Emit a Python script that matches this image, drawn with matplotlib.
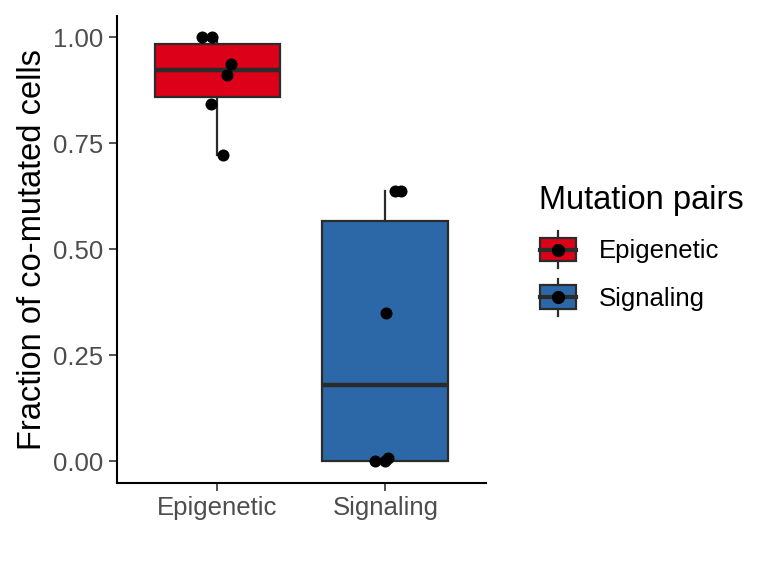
import matplotlib
matplotlib.use("Agg")
import matplotlib.pyplot as plt
from matplotlib.legend_handler import HandlerBase
from matplotlib.patches import Rectangle
from matplotlib.lines import Line2D

plt.rcParams['font.family'] = ['Liberation Sans', 'DejaVu Sans']

categories = ["Epigenetic", "Signaling"]
values_epigenetic = [1.0, 1.0, 0.937, 0.911, 0.843, 0.723]
jitter_epigenetic = [-0.09, -0.03, 0.083, 0.054, -0.036, 0.03]
values_signaling = [0.638, 0.638, 0.350, 0.0, 0.0, 0.009]
jitter_signaling = [0.06, 0.095, 0.005, -0.06, 0.0, 0.018]
colors = ["#DC0019", "#2C68A7"]
yticks = [0.0, 0.25, 0.50, 0.75, 1.00]
ytick_labels = ["0.00", "0.25", "0.50", "0.75", "1.00"]

edge = "#2B2B2B"
fig = plt.figure(figsize=(7.68, 5.76), dpi=100)
ax = fig.add_axes([0.152, 0.162, 0.481, 0.81])

data = [values_epigenetic, values_signaling]
jit = [jitter_epigenetic, jitter_signaling]
positions = [1, 2]
bp = ax.boxplot(data, positions=positions, widths=0.75, patch_artist=True,
                whis=1.5, showcaps=False, showfliers=False,
                boxprops=dict(edgecolor=edge, linewidth=1.6),
                whiskerprops=dict(color=edge, linewidth=1.6),
                medianprops=dict(color=edge, linewidth=3.2),
                zorder=2)
for patch, c in zip(bp['boxes'], colors):
    patch.set_facecolor(c)

for p, vals, js in zip(positions, data, jit):
    ax.scatter([p + j for j in js], vals, s=75, color="black", zorder=3, linewidths=0)

ax.set_xlim(0.4, 2.6)
ax.set_ylim(-0.05, 1.05)
ax.set_xticks(positions)
ax.set_xticklabels(categories)
ax.set_yticks(yticks)
ax.set_yticklabels(ytick_labels)
ax.tick_params(labelsize=18.5, colors="#333333", length=5.5, width=1.2, labelcolor="#4D4D4D", pad=4)
for s in ["top", "right"]:
    ax.spines[s].set_visible(False)
for s in ["left", "bottom"]:
    ax.spines[s].set_linewidth(1.5)
    ax.spines[s].set_color("black")
ax.set_ylabel("Fraction of co-mutated cells", fontsize=23.5, color="black", labelpad=4)


class BoxHandler(HandlerBase):
    def __init__(self, color):
        super().__init__()
        self.color = color

    def create_artists(self, legend, orig_handle, xdescent, ydescent, width, height, fontsize, trans):
        cx = width / 2 - xdescent
        h = height
        bw = width * 0.95
        bh = h * 1.12
        y0 = -ydescent + (h - bh) / 2
        rect = Rectangle((cx - bw / 2, y0), bw, bh, facecolor=self.color, edgecolor=edge,
                         linewidth=1.6, transform=trans)
        wl = Line2D([cx, cx], [y0 - h * 0.3, y0], color=edge, lw=1.6, transform=trans)
        wu = Line2D([cx, cx], [y0 + bh, y0 + bh + h * 0.3], color=edge, lw=1.6, transform=trans)
        med = Line2D([cx - bw / 2, cx + bw / 2], [y0 + bh / 2] * 2, color=edge, lw=3.0, transform=trans)
        dot = Line2D([cx], [y0 + bh / 2], marker="o", markersize=8.5, color="black", lw=0, transform=trans)
        return [wl, wu, rect, med, dot]


handles = [Rectangle((0, 0), 1, 1) for _ in categories]
hmap = {h: BoxHandler(c) for h, c in zip(handles, colors)}
leg = fig.legend(handles, categories, handler_map=hmap, loc="upper left",
                 bbox_to_anchor=(0.678, 0.7105), frameon=False, fontsize=18.5,
                 title="Mutation pairs", title_fontsize=23.5, handlelength=1.5,
                 handleheight=0.9, labelspacing=0.9, handletextpad=0.85,
                 borderpad=0.2)
leg._legend_box.align = "left"

fig.savefig("out.png", dpi=100)
